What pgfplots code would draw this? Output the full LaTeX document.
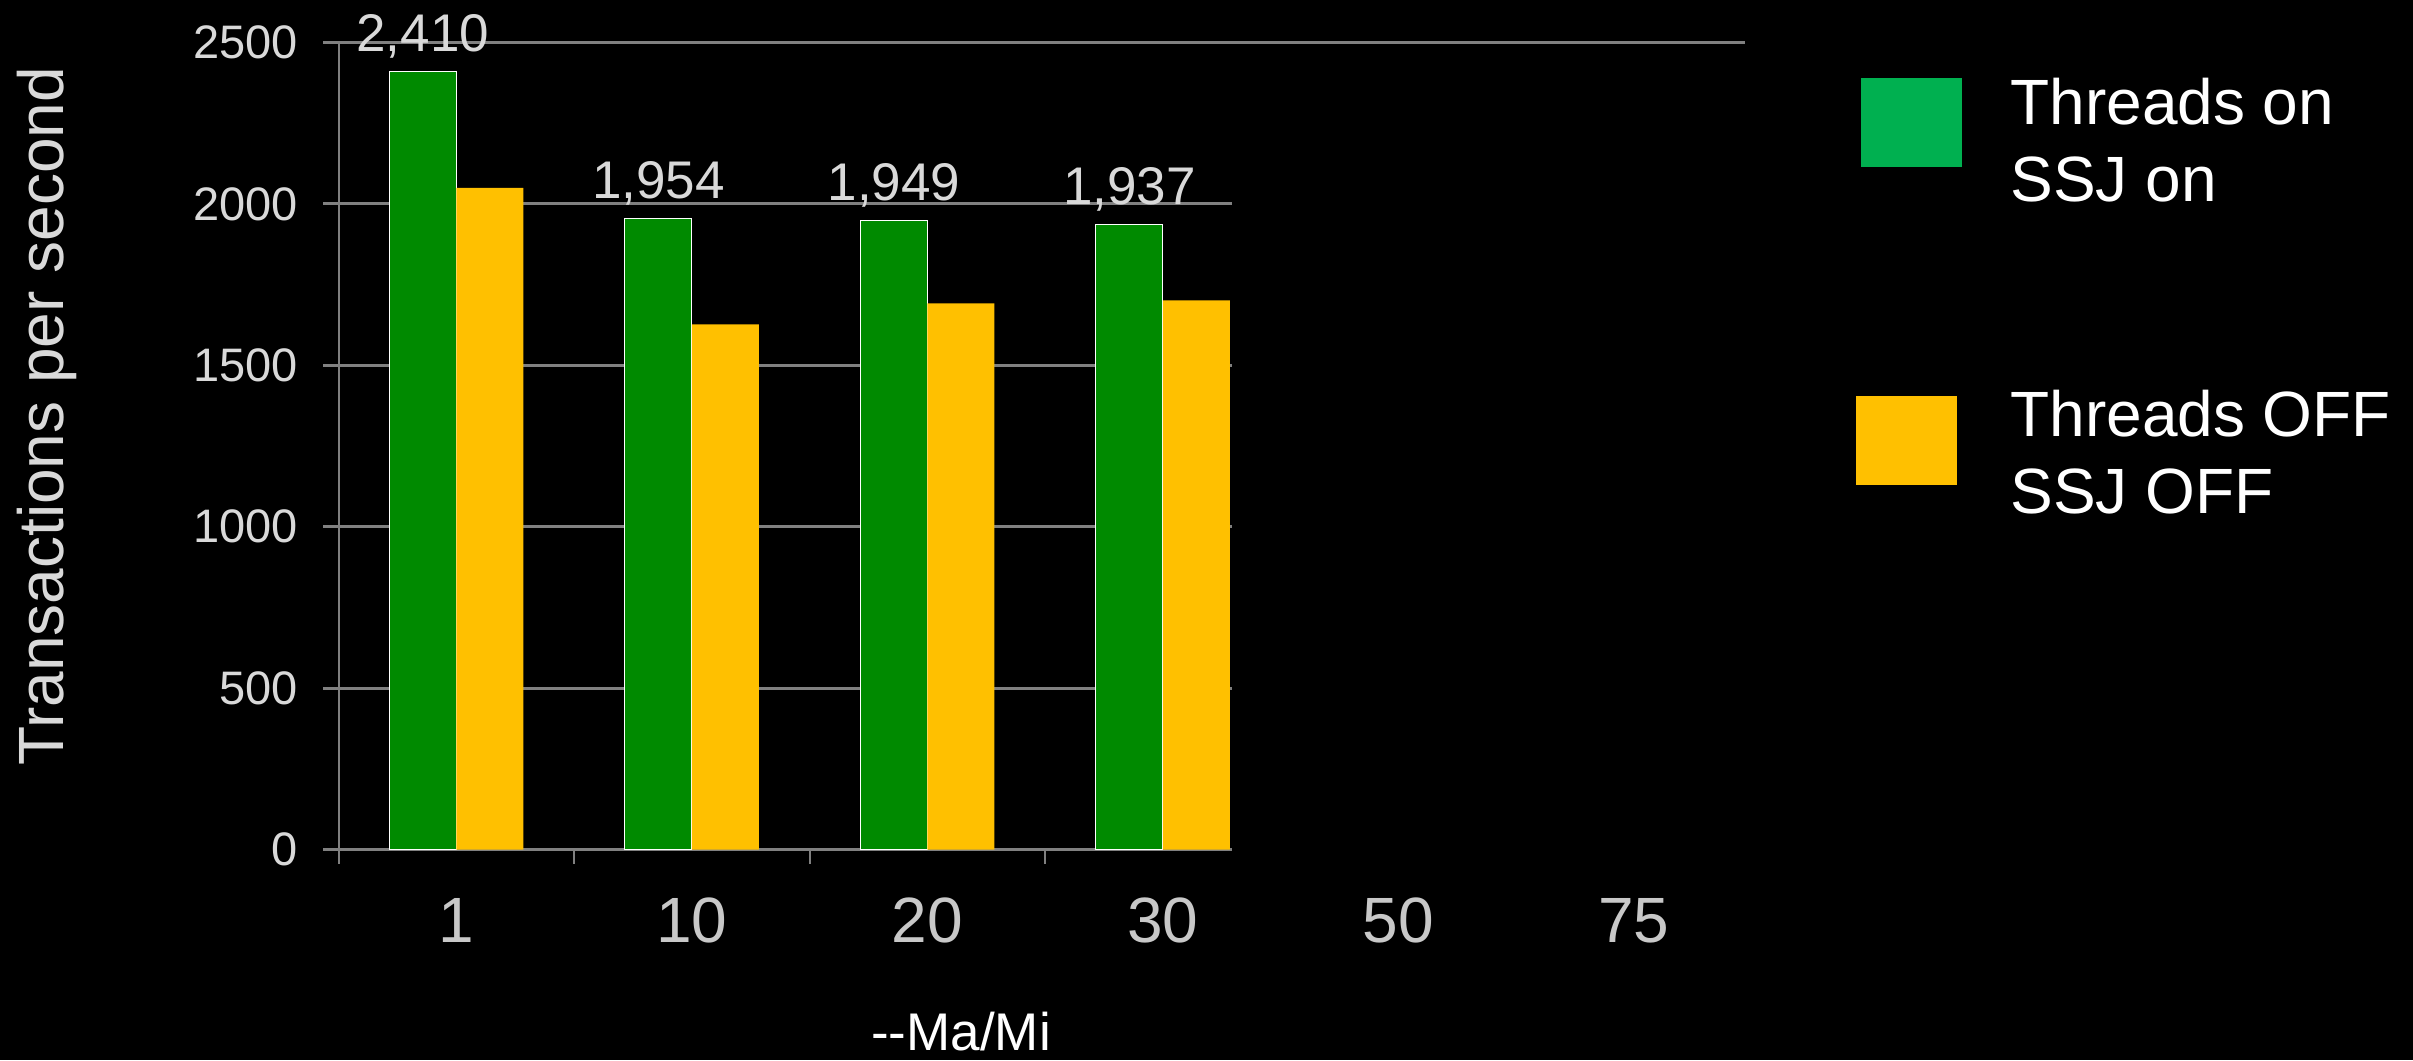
\documentclass[border=0pt]{standalone}
\usepackage{fontspec}
\setmainfont{Liberation Sans}
\usepackage{pgfplots}
\pgfplotsset{compat=1.18}
\definecolor{barGreen}{HTML}{008A00}
\definecolor{barYellow}{HTML}{FFC000}
\definecolor{legendGreen}{HTML}{00B050}
\definecolor{gridgray}{HTML}{808080}
\definecolor{labelgray}{HTML}{D9D9D9}
\definecolor{xtickgray}{HTML}{C8C8C8}
\begin{document}
\begin{tikzpicture}
\fill[black] (-169.3pt,-105.25pt) rectangle (1037.2pt,424.75pt);
\begin{axis}[
  at={(0pt,0pt)}, anchor=south west, scale only axis,
  width=706.5pt, height=403.45pt,
  xmin=-0.5, xmax=5.5, ymin=0, ymax=2500,
  clip=false,
  axis line style={draw=none},
  xtick={0,1,2,3,4,5}, xticklabels={1,10,20,30,50,75},
  xtick style={draw=none},
  ytick={0,500,1000,1500,2000,2500},
  ytick style={draw=gridgray, line width=1.5pt},
  tick align=outside, major tick length=7.7pt,
  xtick pos=bottom, ytick pos=left,
  /pgf/number format/.cd, assume math mode=true, 1000 sep={},
  /pgfplots/.cd,
  yticklabel style={font=\fontsize{23.5}{28}\selectfont, text=labelgray, anchor=east, inner sep=0pt, xshift=-12.5pt},
  xticklabel style={font=\fontsize{32}{36}\selectfont, text=xtickgray, anchor=base, inner sep=0pt, yshift=-38.9pt},
  ylabel={Transactions per second},
  ylabel style={at={(axis description cs:-0.195,0.537)}, anchor=base, rotate=0, font=\fontsize{32}{38}\selectfont, text=labelgray, inner sep=0pt},
  xlabel={{-}{-}Ma/Mi},
  xlabel style={at={(axis description cs:0.4405,-0.2485)}, anchor=base, font=\fontsize{26.5}{31}\selectfont, text=white, inner sep=0pt},
]
\pgfplotsinvokeforeach{0,500,1000,1500,2000}{\draw[gridgray, line width=1.5pt] (axis cs:-0.5,#1) -- (axis cs:3.292,#1);}
\draw[gridgray, line width=1.5pt] (axis cs:-0.5,2500) -- (axis cs:5.474,2500);
\draw[gridgray, line width=1pt] (axis cs:-0.5,2500) -- (axis cs:-0.5,0) -- ++(0pt,-7pt);
\pgfplotsinvokeforeach{0.5,1.5,2.5}{\draw[gridgray, line width=1pt] (axis cs:#1,0) -- ++(0pt,-7pt);}
\addplot[ybar, bar width=33.5pt, bar shift=-16.75pt, fill=barGreen, draw=white, line width=0.6pt,
  nodes near coords={\pgfmathprintnumber[assume math mode=true,1000 sep={,}]{\pgfplotspointmeta}},
  every node near coord/.append style={anchor=base, inner sep=0pt, xshift=-16.75pt, yshift=10pt, font=\fontsize{26.5}{31}\selectfont, text=labelgray}]
  coordinates {(0,2410) (1,1954) (2,1949) (3,1937)};
\addplot[ybar, bar width=33.5pt, bar shift=16.75pt, fill=barYellow, draw=none]
  coordinates {(0,2050) (1,1627) (2,1692) (3,1701)};
\end{axis}
\fill[legendGreen] (761pt,341.25pt) rectangle (811.45pt,385.6pt);
\fill[barYellow] (758.7pt,182.4pt) rectangle (809.2pt,226.75pt);
\node[anchor=base west, inner sep=0pt, text=white, font=\fontsize{32}{38}\selectfont] at (835.7pt,362.25pt) {Threads on};
\node[anchor=base west, inner sep=0pt, text=white, font=\fontsize{32}{38}\selectfont] at (835.7pt,323.9pt) {SSJ on};
\node[anchor=base west, inner sep=0pt, text=white, font=\fontsize{32}{38}\selectfont] at (835.7pt,206.25pt) {Threads OFF};
\node[anchor=base west, inner sep=0pt, text=white, font=\fontsize{32}{38}\selectfont] at (835.7pt,167.75pt) {SSJ OFF};
\pgfresetboundingbox
\path[use as bounding box] (-169.3pt,-105.25pt) rectangle (1037.2pt,424.75pt);
\end{tikzpicture}
\end{document}
